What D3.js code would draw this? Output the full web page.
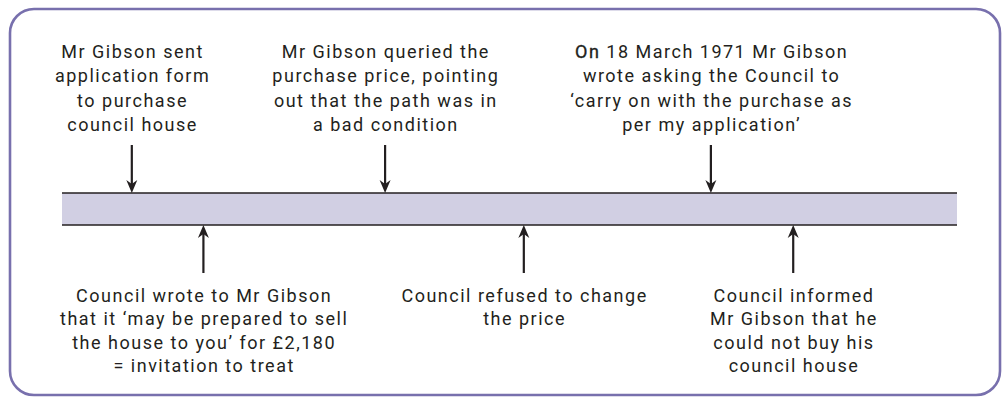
<!DOCTYPE html>
<html><head><meta charset="utf-8">
<script src="https://cdn.jsdelivr.net/npm/d3@7"></script>
<style>body{margin:0;background:#fff}svg{display:block}</style>
</head><body>
<script>
// Events along the timeline (position 0–100 along the band)
const topLabels = [
  ["Mr Gibson sent", "application form", "to purchase", "council house"],
  ["Mr Gibson queried the", "purchase price, pointing", "out that the path was in", "a bad condition"],
  ["On 18 March 1971 Mr Gibson", "wrote asking the Council to", "\u2018carry on with the purchase as", "per my application\u2019"]
];
const topPos = [7.8, 36.1, 72.5];
const bottomLabels = [
  ["Council wrote to Mr Gibson", "that it \u2018may be prepared to sell", "the house to you\u2019 for \u00a32,180", "= invitation to treat"],
  ["Council refused to change", "the price"],
  ["Council informed", "Mr Gibson that he", "could not buy his", "council house"]
];
const bottomPos = [15.8, 51.6, 81.7];

const W = 1005, H = 403;
const svg = d3.select("body").append("svg").attr("width", W).attr("height", H);
const x = d3.scaleLinear().domain([0, 100]).range([62, 957]);
const bandTop = 193, bandBot = 225;
const font = "Roboto, 'DejaVu Sans', sans-serif";
const txt = "#231f20";

svg.append("rect").attr("x", 10).attr("y", 9).attr("width", 990).attr("height", 386)
  .attr("rx", 24).attr("fill", "none").attr("stroke", "#7870ad").attr("stroke-width", 2.6);

svg.append("rect").attr("x", x(0)).attr("y", bandTop).attr("width", x(100) - x(0))
  .attr("height", bandBot - bandTop).attr("fill", "#d1cfe3");
svg.append("line").attr("x1", x(0)).attr("x2", x(100)).attr("y1", bandTop).attr("y2", bandTop)
  .attr("stroke", "#231f20").attr("stroke-width", 1.5);
svg.append("line").attr("x1", x(0)).attr("x2", x(100)).attr("y1", bandBot).attr("y2", bandBot)
  .attr("stroke", "#231f20").attr("stroke-width", 1.5);

function arrow(g, xc, yFrom, yTo) {
  const dir = Math.sign(yTo - yFrom);
  g.append("line").attr("x1", xc).attr("x2", xc).attr("y1", yFrom).attr("y2", yTo - dir * 8)
    .attr("stroke", "#231f20").attr("stroke-width", 2.2);
  g.append("path").attr("d", `M${xc - 5.5},${yTo - dir * 13} L${xc},${yTo} L${xc + 5.5},${yTo - dir * 13} L${xc},${yTo - dir * 9} Z`)
    .attr("fill", "#231f20");
}

function addLine(t, xc, y, line) {
  const ts = t.append("tspan").attr("x", xc + 0.75).attr("y", y);
  if (line.startsWith("On ")) {
    ts.append("tspan").attr("stroke", txt).attr("stroke-width", 0.35).text("On");
    ts.append("tspan").text(line.slice(2));
  } else ts.text(line);
}

topPos.forEach((p, i) => {
  const g = svg.append("g");
  arrow(g, x(p), 145, bandTop);
  const t = g.append("text").attr("text-anchor", "middle").attr("font-family", font)
    .attr("font-size", 18).attr("letter-spacing", 1.5).attr("fill", txt);
  topLabels[i].forEach((line, j) => addLine(t, x(p), 58 + j * 24.3, line));
});

bottomPos.forEach((p, i) => {
  const g = svg.append("g");
  arrow(g, x(p), 273, bandBot);
  const t = g.append("text").attr("text-anchor", "middle").attr("font-family", font)
    .attr("font-size", 18).attr("letter-spacing", 1.5).attr("fill", txt);
  bottomLabels[i].forEach((line, j) => addLine(t, x(p), 302 + j * 23.4, line));
});
</script>
</body></html>
